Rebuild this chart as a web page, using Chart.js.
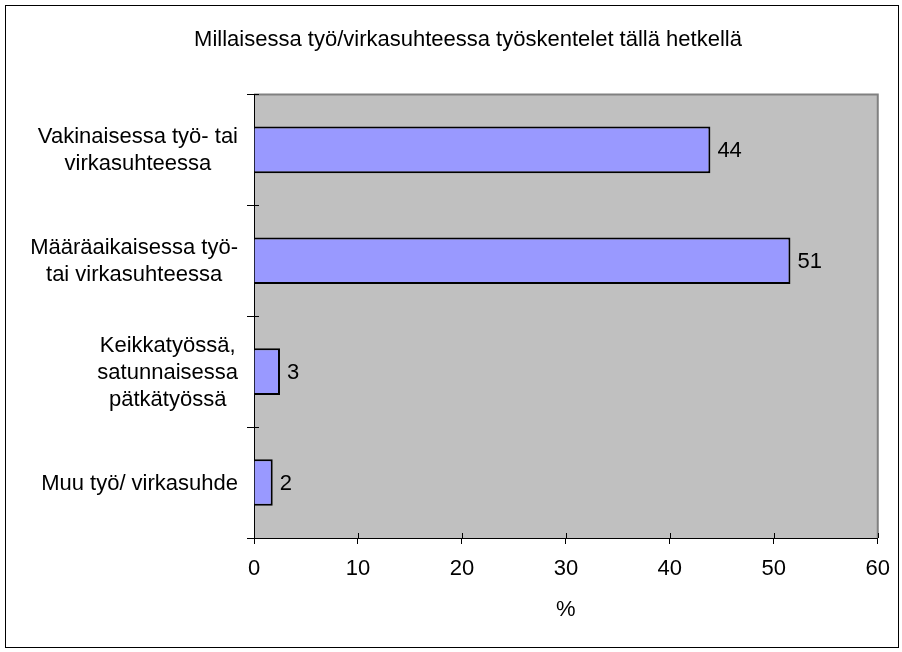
<!DOCTYPE html>
<html lang="fi">
<head>
  <meta charset="UTF-8">
  <title>Millaisessa työ/virkasuhteessa työskentelet tällä hetkellä</title>
  <script src="https://cdn.jsdelivr.net/npm/chart.js"></script>
  <style>
    * { margin: 0; padding: 0; box-sizing: border-box; }
    body { background: #fff; width: 902px; height: 652px; overflow: hidden; }
    canvas { display: block; }
  </style>
</head>
<body>
  <canvas id="workChart" width="902" height="652"></canvas>

  <script>
    // data
    const chartTitle = 'Millaisessa työ/virkasuhteessa työskentelet tällä hetkellä';
    const categories = [
      ['Vakinaisessa työ- tai', 'virkasuhteessa'],
      ['Määräaikaisessa työ-', 'tai virkasuhteessa'],
      ['Keikkatyössä,', 'satunnaisessa', 'pätkätyössä'],
      ['Muu työ/ virkasuhde']
    ];
    const values = [43.9, 51.6, 2.5, 1.8];
    const valueLabels = ['44', '51', '3', '2'];
    const axisMin = 0;
    const axisMax = 60;
    const axisStep = 10;
    const axisTitle = '%';

    const FONT = "'Liberation Sans', Arial, sans-serif";
    const FSIZE = 22;
    Chart.defaults.font.family = FONT;
    Chart.defaults.font.size = FSIZE;
    Chart.defaults.color = '#000';

    // grey plot area + outer frame + inner tick halves
    const frame = {
      id: 'frame',
      beforeDraw(chart) {
        const { ctx, chartArea: a } = chart;
        ctx.save();
        ctx.fillStyle = '#C0C0C0';
        ctx.fillRect(a.left, a.top, a.right - a.left, a.bottom - a.top);
        ctx.strokeStyle = '#808080';
        ctx.lineWidth = 2;
        ctx.beginPath();
        ctx.moveTo(a.left, a.top);
        ctx.lineTo(a.right, a.top);
        ctx.lineTo(a.right, a.bottom);
        ctx.stroke();
        ctx.restore();
      },
      afterDraw(chart) {
        const { ctx, chartArea: a, scales } = chart;
        ctx.save();
        ctx.strokeStyle = '#000';
        ctx.lineWidth = 1;
        ctx.beginPath();
        scales.x.ticks.forEach((t, i) => {
          const x = Math.round(scales.x.getPixelForTick(i)) + 0.5;
          ctx.moveTo(x, a.bottom - 5);
          ctx.lineTo(x, a.bottom);
        });
        for (let i = 0; i <= categories.length; i++) {
          const y = Math.round(scales.y.getPixelForValue(i - 0.5)) + 0.5;
          ctx.moveTo(a.left, y);
          ctx.lineTo(a.left + 5, y);
        }
        ctx.stroke();
        ctx.strokeRect(5.5, 5.5, 893, 642);
        ctx.restore();
      }
    };

    // category labels: each block right aligned, lines centred within it
    const catLabels = {
      id: 'catLabels',
      afterDraw(chart) {
        const { ctx, scales } = chart;
        const right = chart.chartArea.left - 16;
        const lh = 27;
        ctx.save();
        ctx.font = FSIZE + 'px ' + FONT;
        ctx.fillStyle = '#000';
        ctx.textAlign = 'center';
        ctx.textBaseline = 'middle';
        categories.forEach((lines, i) => {
          const w = Math.max(...lines.map(l => ctx.measureText(l).width));
          const cx = right - w / 2;
          const cy = scales.y.getPixelForValue(i) + 1;
          lines.forEach((l, j) => {
            ctx.fillText(l, cx, cy + (j - (lines.length - 1) / 2) * lh);
          });
        });
        ctx.restore();
      }
    };

    // value labels to the right of each bar
    const barLabels = {
      id: 'barLabels',
      afterDatasetsDraw(chart) {
        const { ctx } = chart;
        const meta = chart.getDatasetMeta(0);
        ctx.save();
        ctx.font = FSIZE + 'px ' + FONT;
        ctx.fillStyle = '#000';
        ctx.textAlign = 'left';
        ctx.textBaseline = 'middle';
        meta.data.forEach((bar, i) => {
          ctx.fillText(valueLabels[i], bar.x + 7, bar.y + 1);
        });
        ctx.restore();
      }
    };

    new Chart(document.getElementById('workChart'), {
      type: 'bar',
      data: {
        labels: categories.map(c => c.join(' ')),
        datasets: [{
          data: values,
          backgroundColor: '#9999FF',
          borderColor: '#000',
          borderWidth: 2,
          barPercentage: 0.42,
          categoryPercentage: 1
        }]
      },
      options: {
        indexAxis: 'y',
        responsive: false,
        animation: false,
        layout: { padding: { left: 57, right: 23, top: 0, bottom: 0 } },
        plugins: {
          legend: { display: false },
          tooltip: { enabled: false },
          title: {
            display: true,
            text: chartTitle,
            color: '#000',
            font: { size: FSIZE, weight: 'normal' },
            padding: { top: 27, bottom: 41 }
          }
        },
        scales: {
          x: {
            min: axisMin,
            max: axisMax,
            ticks: { stepSize: axisStep, padding: 12, color: '#000', font: { size: FSIZE } },
            grid: { display: true, drawOnChartArea: false, tickLength: 6, color: '#000' },
            border: { color: '#000', width: 1 },
            title: {
              display: true,
              text: axisTitle,
              color: '#000',
              font: { size: FSIZE },
              padding: { top: 0, bottom: 29 }
            },
            afterFit(scale) { scale.height = 114; }
          },
          y: {
            ticks: { display: false },
            grid: { display: true, drawOnChartArea: false, tickLength: 7, color: '#000', offset: true },
            border: { color: '#000', width: 1 },
            afterFit(scale) { scale.width = 197; }
          }
        }
      },
      plugins: [frame, catLabels, barLabels]
    });
  </script>
</body>
</html>
